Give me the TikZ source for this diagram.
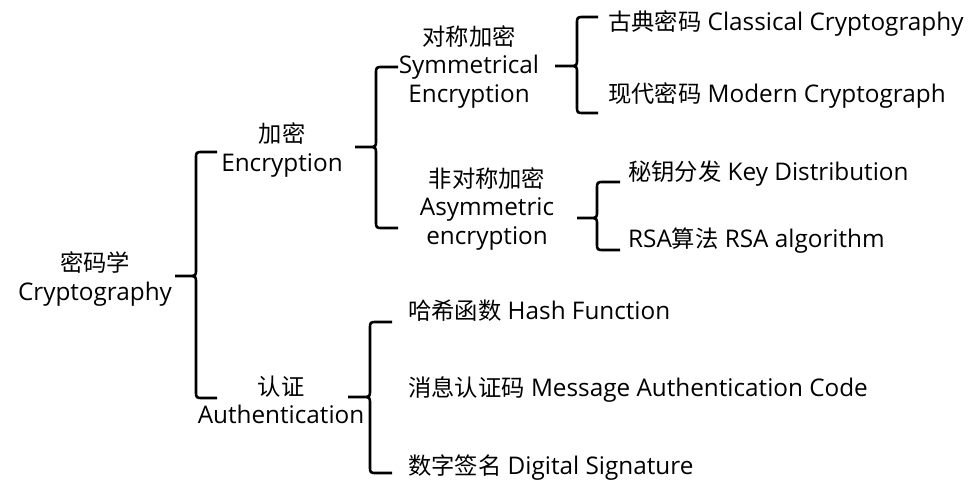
\documentclass[tikz,border=0pt]{standalone}
\usepackage{fontspec}
\setmainfont{Open Sans}
\newfontfamily\cjkfont{Noto Sans CJK SC}
\newcommand\zh[1]{{\cjkfont\fontsize{23.3}{28.5}\selectfont #1}}
\newcommand\drawbrace[6]{% tipx tipy vx topy boty endx
  \draw[bracestyle] (#6,#4) -- ({#3+7},#4) .. controls (#3,#4) .. (#3,{#4+7})
    -- (#3,{#2-7}) .. controls (#3,#2) .. ({#3-8},#2) -- (#1,#2)
    (#3,{#2-7}) .. controls (#3,#2) .. ({#3-8},#2)
    (#3,{#2+7}) .. controls (#3,#2) .. ({#3-8},#2)
    (#3,{#2+7}) -- (#3,{#5-7}) .. controls (#3,#5) .. ({#3+7},#5) -- (#6,#5);}
\begin{document}
\begin{tikzpicture}[x=1pt,y=-1pt,
  bracestyle/.style={line width=2.6pt,black,line cap=butt,line join=round},
  lbl/.style={inner sep=0pt,align=center,font=\fontsize{24.3}{28.5}\selectfont},
  leaf/.style={inner sep=0pt,anchor=west,font=\fontsize{24.3}{28.5}\selectfont}]
\useasboundingbox (0,0) rectangle (979,497);
% labels
\node[lbl] (root) at (95,279) {\zh{密码学}\\Cryptography};
\node[lbl] (enc) at (282,150) {\zh{加密}\\Encryption};
\node[lbl] (auth) at (281,400) {\zh{认证}\\Authentication};
\node[lbl] (sym) at (469,67) {\zh{对称加密}\\Symmetrical\\Encryption};
\node[lbl] (asym) at (487,209) {\zh{非对称加密}\\Asymmetric\\encryption};
\node[leaf] (cls) at (608,24) {\zh{古典密码} Classical Cryptography};
\node[leaf] (mod) at (608,96) {\zh{现代密码} Modern Cryptograph};
\node[leaf] (key) at (628,174) {\zh{秘钥分发} Key Distribution};
\node[leaf] (rsa) at (628,241) {RSA\zh{算法} RSA algorithm};
\node[leaf] (hash) at (408,311) {\zh{哈希函数} Hash Function};
\node[leaf] (mac) at (408,390) {\zh{消息认证码} Message Authentication Code};
\node[leaf] (sig) at (408,468) {\zh{数字签名} Digital Signature};
% braces
\drawbrace{175}{276}{196}{152}{398}{217}
\drawbrace{355}{147}{376}{67}{228}{398}
\drawbrace{555}{66}{577}{17}{113}{598}
\drawbrace{577}{218}{597}{182}{250}{620}
\drawbrace{348}{397}{370}{322}{473}{392}
\end{tikzpicture}
\end{document}
